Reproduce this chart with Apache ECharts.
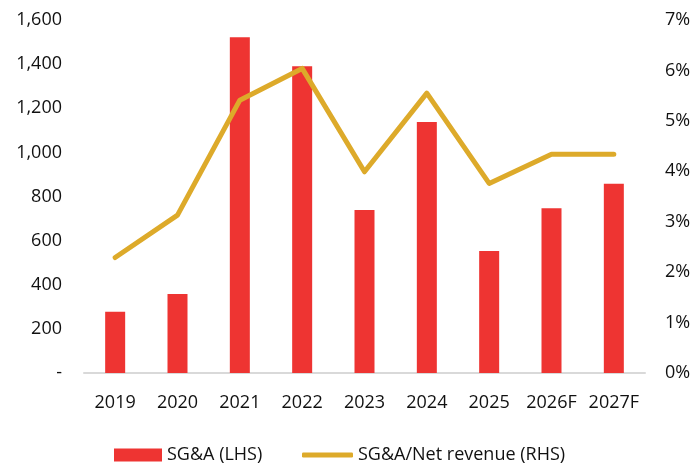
<!DOCTYPE html>
<html>
<head>
<meta charset="utf-8">
<script src="https://cdn.jsdelivr.net/npm/echarts@6/dist/echarts.min.js"></script>
<style>
    html, body { margin: 0; padding: 0; background: #fff; }
    #chart { width: 697px; height: 466px; }
</style>
</head>
<body>
<div id="chart"></div>
<script>
var years = ['2019', '2020', '2021', '2022', '2023', '2024', '2025', '2026F', '2027F'];
var sgaValues = [278, 358, 1522, 1390, 739, 1138, 553, 747, 858];
var sgaRatio = [2.29, 3.13, 5.41, 6.04, 3.99, 5.55, 3.76, 4.34, 4.34];

var barColor = '#EE3432';
var lineColor = '#DDAA2A';
var fontFam = '"Open Sans", "Noto Sans", sans-serif';

var myChart = echarts.init(document.getElementById('chart'));
var option = {
    animation: false,
    textStyle: { fontFamily: fontFam },
    grid: {
        left: 84,
        right: 52,
        top: 20,
        bottom: 93
    },
    legend: [{
        top: 441,
        left: 109,
        itemWidth: 48,
        itemHeight: 13,
        itemGap: 6,
        textStyle: { fontSize: 18, color: '#111', fontFamily: fontFam },
        data: [{ name: 'SG&A (LHS)', icon: 'rect' }]
    }, {
        top: 441,
        left: 297,
        itemWidth: 51,
        itemHeight: 5,
        textStyle: { fontSize: 18, color: '#111', fontFamily: fontFam },
        data: [{ name: 'SG&A/Net revenue (RHS)', icon: 'roundRect' }]
    }],
    xAxis: {
        type: 'category',
        data: years,
        axisLine: { lineStyle: { color: '#d9d9d9', width: 2 } },
        axisTick: { show: false },
        axisLabel: { fontSize: 18, color: '#111', margin: 21, interval: 0, hideOverlap: false }
    },
    yAxis: [{
        type: 'value',
        min: 0,
        max: 1600,
        interval: 200,
        splitLine: { show: false },
        axisLine: { show: false },
        axisTick: { show: false },
        axisLabel: {
            fontSize: 18,
            color: '#111',
            margin: 22,
            formatter: function (v) {
                if (v == 0) return '-';
                return v.toLocaleString('en-US');
            }
        }
    }, {
        type: 'value',
        min: 0,
        max: 7,
        interval: 1,
        splitLine: { show: false },
        axisLine: { show: false },
        axisTick: { show: false },
        axisLabel: {
            fontSize: 18,
            color: '#111',
            margin: 20,
            formatter: '{value}%'
        }
    }],
    series: [{
        name: 'SG&A (LHS)',
        type: 'bar',
        data: sgaValues,
        barWidth: 20,
        itemStyle: { color: barColor }
    }, {
        name: 'SG&A/Net revenue (RHS)',
        type: 'line',
        yAxisIndex: 1,
        data: sgaRatio,
        symbol: 'none',
        itemStyle: { color: lineColor },
        lineStyle: { color: lineColor, width: 5, cap: 'round', join: 'round' }
    }]
};
myChart.setOption(option);
</script>
</body>
</html>
